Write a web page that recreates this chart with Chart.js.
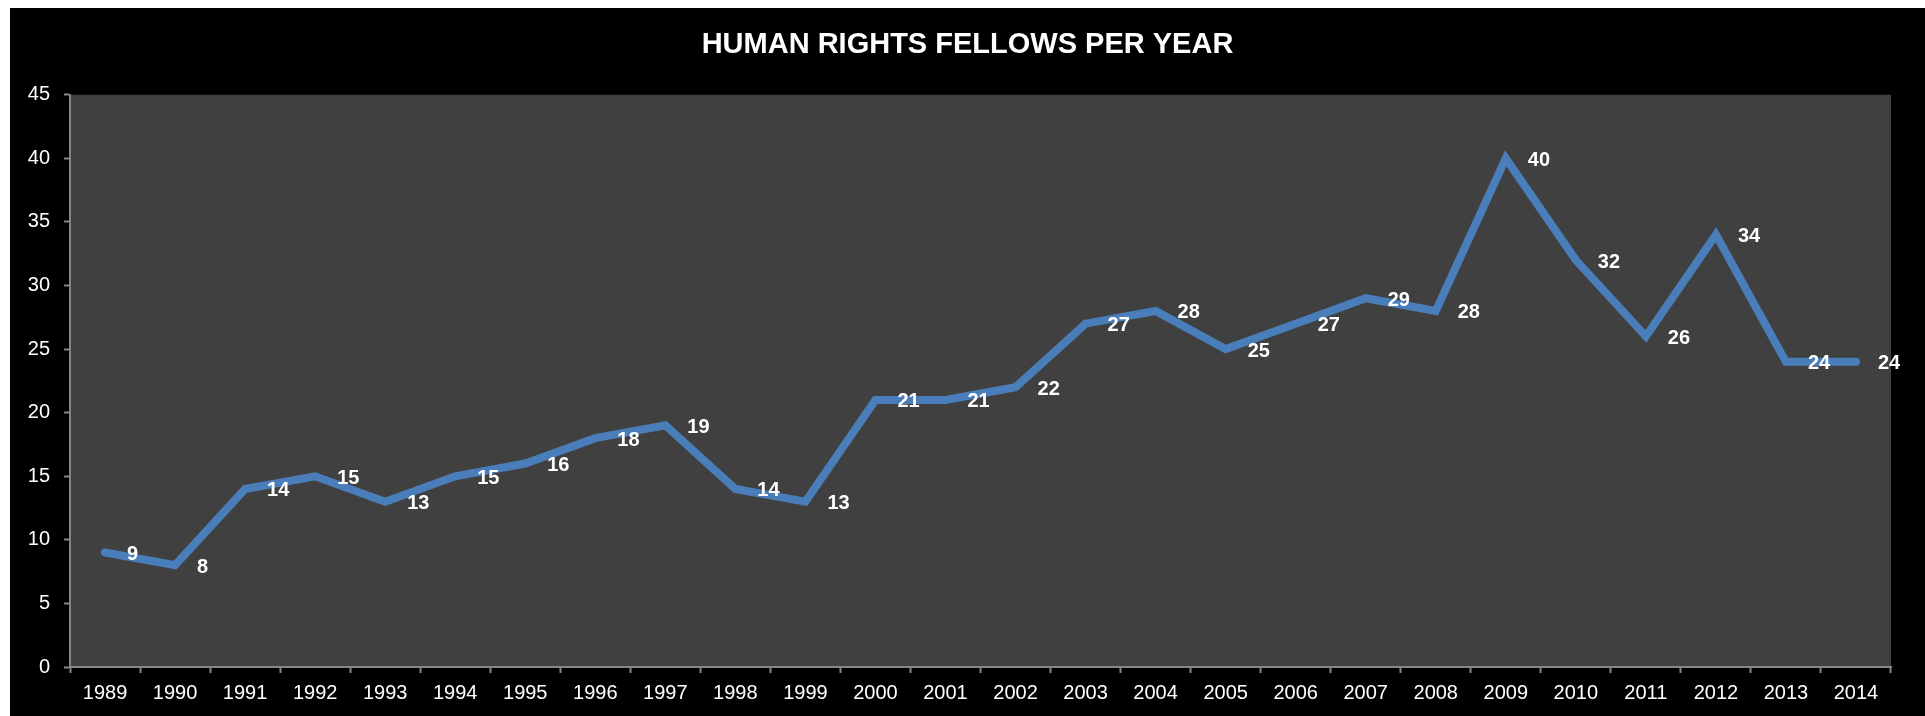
<!DOCTYPE html>
<html>
<head>
<meta charset="utf-8">
<script src="https://cdn.jsdelivr.net/npm/chart.js@4/dist/chart.umd.min.js"></script>
<style>
  html, body { margin: 0; padding: 0; background: #ffffff; }
  #wrap { position: absolute; left: 10px; top: 8px; width: 1915px; height: 708px; background: #000000; }
  canvas { display: block; }
</style>
</head>
<body>
<div id="wrap"><canvas id="c" width="1915" height="708"></canvas></div>
<script>
const titleText = 'HUMAN RIGHTS FELLOWS PER YEAR';
const years = ['1989','1990','1991','1992','1993','1994','1995','1996','1997','1998','1999','2000','2001','2002','2003','2004','2005','2006','2007','2008','2009','2010','2011','2012','2013','2014'];
const fellows = [9, 8, 14, 15, 13, 15, 16, 18, 19, 14, 13, 21, 21, 22, 27, 28, 25, 27, 29, 28, 40, 32, 26, 34, 24, 24];
const yTicks = [0, 5, 10, 15, 20, 25, 30, 35, 40, 45];

const FONT = '"Liberation Sans", Arial, sans-serif';

const plotBg = {
  id: 'plotBg',
  beforeDraw(chart) {
    const a = chart.chartArea, ctx = chart.ctx;
    ctx.save();
    ctx.fillStyle = '#404040';
    ctx.fillRect(a.left, a.top, a.right - a.left, a.bottom - a.top);
    ctx.restore();
  }
};

const pointLabels = {
  id: 'pointLabels',
  afterDatasetsDraw(chart) {
    const ctx = chart.ctx;
    const meta = chart.getDatasetMeta(0);
    const data = chart.data.datasets[0].data;
    ctx.save();
    ctx.fillStyle = '#ffffff';
    ctx.font = 'bold 20px ' + FONT;
    ctx.textAlign = 'left';
    ctx.textBaseline = 'middle';
    meta.data.forEach((pt, i) => {
      ctx.fillText(String(data[i]), pt.x + 22, pt.y + 2);
    });
    ctx.restore();
  }
};

new Chart(document.getElementById('c'), {
  type: 'line',
  data: {
    labels: years,
    datasets: [{
      data: fellows,
      borderColor: '#4A7EBB',
      borderWidth: 8,
      borderCapStyle: 'round',
      borderJoinStyle: 'miter',
      pointRadius: 0,
      pointHoverRadius: 0,
      tension: 0,
      fill: false,
      yAxisID: 'y'
    }]
  },
  plugins: [plotBg, pointLabels],
  options: {
    responsive: false,
    animation: false,
    events: [],
    layout: { padding: 0 },
    plugins: {
      legend: { display: false },
      tooltip: { enabled: false },
      title: {
        display: true,
        text: titleText,
        color: '#ffffff',
        font: { family: FONT, size: 29, weight: 'bold', lineHeight: 1.2 },
        padding: { top: 20, bottom: 32 }
      }
    },
    scales: {
      x: {
        type: 'category',
        offset: true,
        grid: {
          offset: true,
          drawOnChartArea: false,
          drawTicks: true,
          tickLength: 6,
          tickWidth: 2,
          tickColor: '#868686'
        },
        border: { display: true, color: '#868686', width: 2 },
        ticks: {
          color: '#ffffff',
          font: { family: FONT, size: 20 },
          padding: 8,
          maxRotation: 0,
          autoSkip: false
        },
        afterFit(scale) { scale.height = 49; }
      },
      y: {
        position: 'left',
        min: 0,
        max: 45,
        afterBuildTicks(scale) { scale.ticks = yTicks.map(v => ({ value: v })); },
        grid: {
          drawOnChartArea: false,
          drawTicks: true,
          tickLength: 6,
          tickWidth: 2,
          tickColor: '#868686'
        },
        border: { display: true, color: '#868686', width: 2 },
        ticks: {
          color: '#ffffff',
          font: { family: FONT, size: 20 },
          padding: 14
        },
        afterFit(scale) { scale.width = 60; }
      },
      yRight: {
        position: 'right',
        min: 0,
        max: 45,
        grid: { display: false, drawTicks: false },
        border: { display: false },
        ticks: { display: false },
        afterFit(scale) { scale.width = 34; }
      }
    }
  }
});
</script>
</body>
</html>
